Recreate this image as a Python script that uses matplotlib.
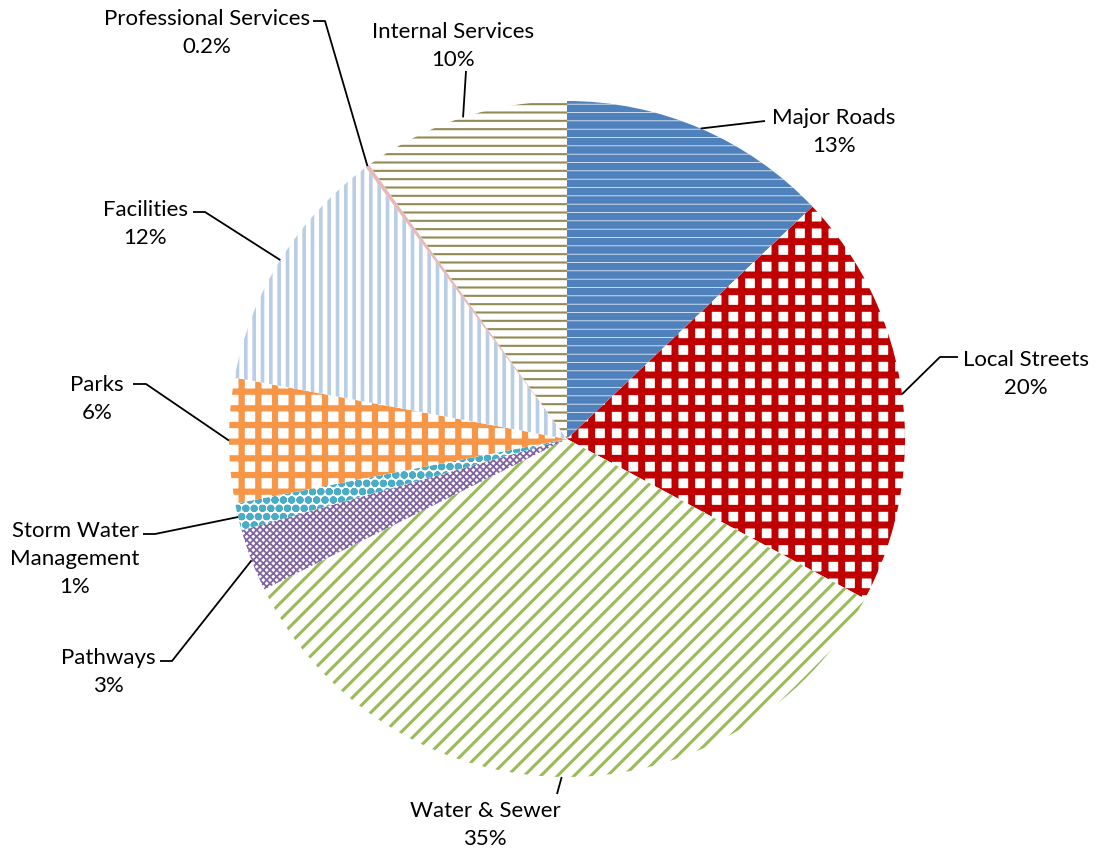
import numpy as np
import matplotlib
matplotlib.use('Agg')
import matplotlib.pyplot as plt
from matplotlib import rcParams

rcParams['font.family'] = ['Lato', 'DejaVu Sans']

# data
categories = ['Major Roads', 'Local Streets', 'Water & Sewer', 'Pathways',
              'Storm Water\nManagement', 'Parks', 'Facilities',
              'Professional Services', 'Internal Services']
shares = [13, 20, 35, 3, 1.3, 6, 12, 0.2, 10]
pct_labels = ['13%', '20%', '35%', '3%', '1%', '6%', '12%', '0.2%', '10%']

# style per slice: (face, hatch colour, hatch, hatch lw)
styles = [
    ('#4F81BD', 'white', '--', 0.5),
    ('white', '#C00000', '+', 5.0),
    ('white', '#9BBB59', '//', 2.2),
    ('white', '#8064A2', 'xxxxx', 1.3),
    ('white', '#4BACC6', 'oo', 2.8),
    ('white', '#F79646', '+', 4.5),
    ('white', '#B9CDE5', '||', 2.6),
    ('#E6B9B8', '#E6B9B8', '', 1.0),
    ('white', '#948A54', '--', 1.5),
]

# label positions (pixel coords from top-left) and where leader ends
label_pos = [(834, 132), (1026, 374), (485, 825), (108, 672), (75, 559),
             (97, 399), (145, 224), (207, 33), (453, 46)]
leader_end = [(765, 122), (958, 358), (557, 795), (160, 662), (143, 535),
              (133, 385), (193, 213), (313, 22), (466, 72)]
leader_knee = [None, (940, 358), None, (172, 662), (155, 535),
               (146, 385), (205, 213), (325, 22), None]

W, H = 1095, 854
cx, cy, R = 567, H - 440, 338

fig = plt.figure(figsize=(W / 100, H / 100), dpi=100)
ax = fig.add_axes([0, 0, 1, 1])

wedges, _ = ax.pie(shares, center=(cx, cy), radius=R, startangle=90,
                   counterclock=False)
ax.set_xlim(0, W)
ax.set_ylim(0, H)
ax.set_aspect('equal')
ax.axis('off')
for w, (fc, hc, hatch, hlw) in zip(wedges, styles):
    w.set_facecolor(fc)
    w.set_edgecolor(hc)
    w.set_linewidth(0)
    w.set_hatch(hatch)
    if hasattr(w, 'set_hatch_linewidth'):
        w.set_hatch_linewidth(hlw)

# leader lines + labels
for i, w in enumerate(wedges):
    ang = np.deg2rad((w.theta1 + w.theta2) / 2)
    sx, sy = cx + R * np.cos(ang), cy + R * np.sin(ang)
    ex, ey = leader_end[i]
    pts = [(sx, sy)]
    if leader_knee[i] is not None:
        pts.append((leader_knee[i][0], H - leader_knee[i][1]))
    pts.append((ex, H - ey))
    xs, ys = zip(*pts)
    ax.plot(xs, ys, color='black', lw=1.3, solid_capstyle='butt')
    tx, ty = label_pos[i]
    ax.text(tx, H - ty, categories[i] + '\n' + pct_labels[i], ha='center',
            va='center', fontsize=16, color='black', linespacing=1.5)

plt.savefig('out.png', dpi=100)
